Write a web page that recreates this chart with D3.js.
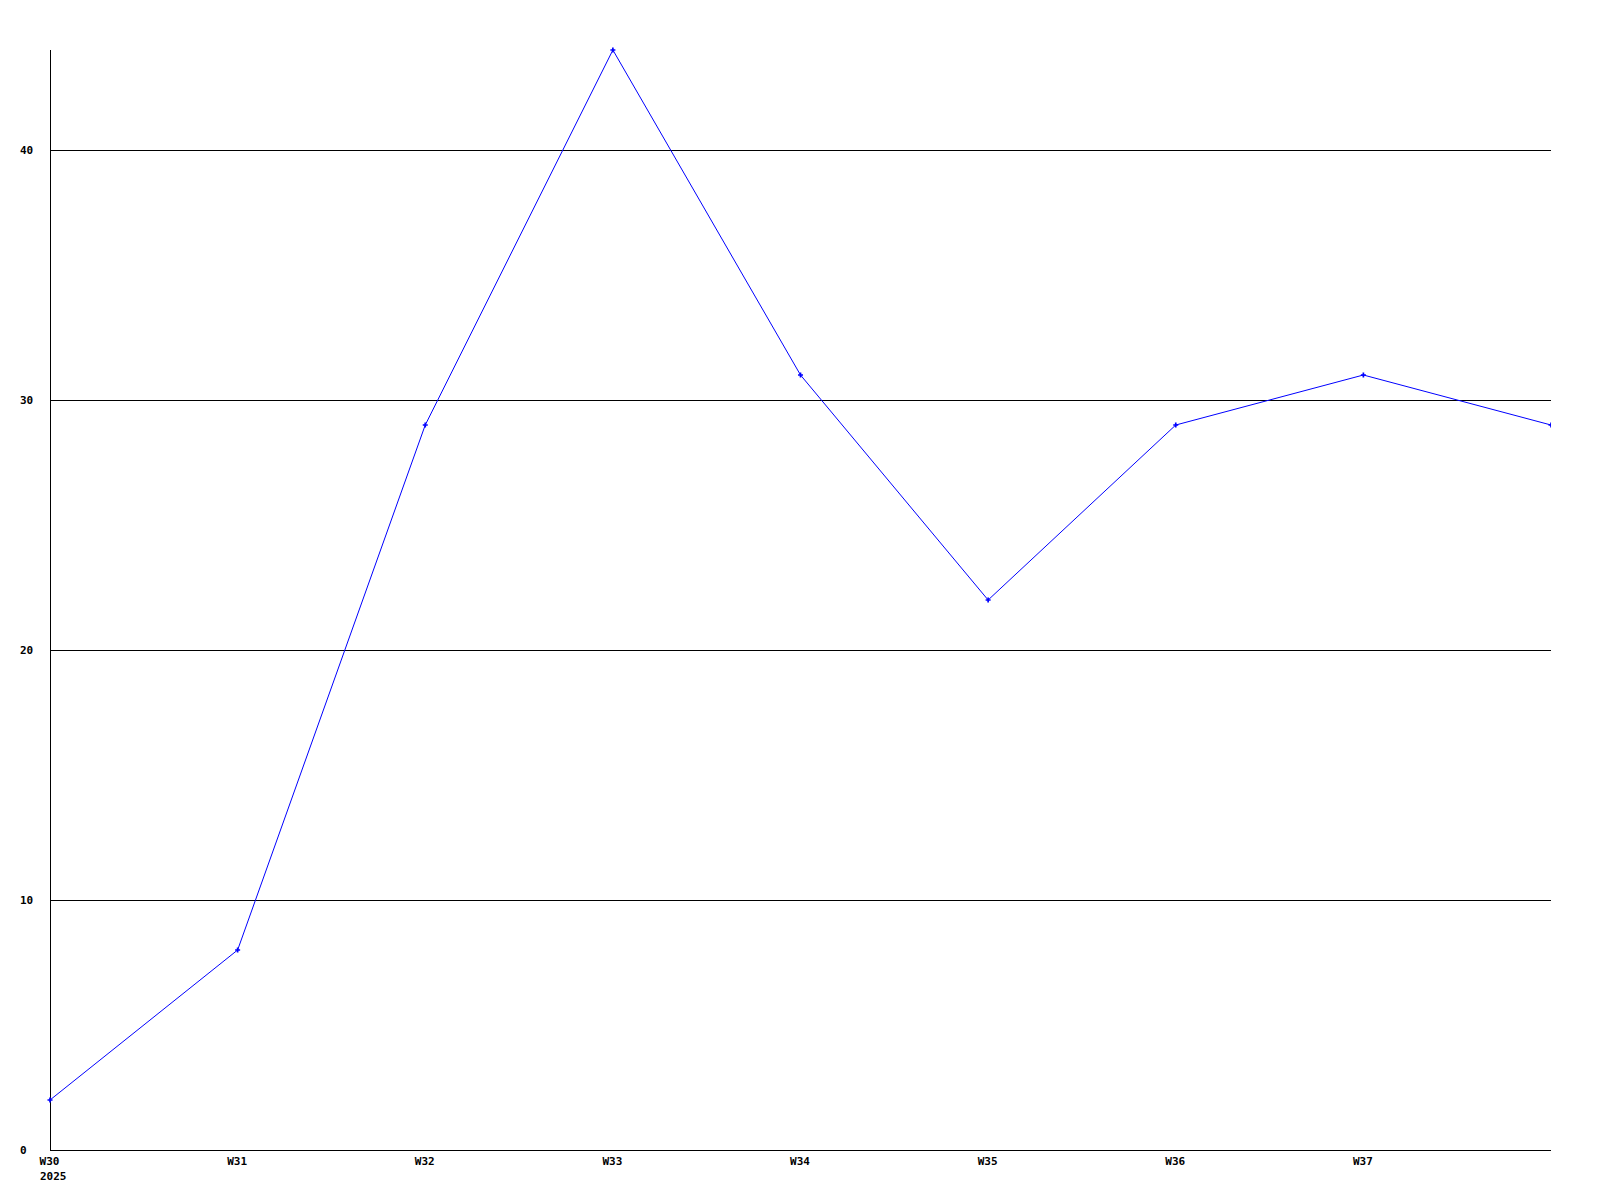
<!DOCTYPE html>
<html>
<head>
<meta charset="utf-8">
<script src="https://cdn.jsdelivr.net/npm/d3@7"></script>
<style>
  body { margin: 0; background: #fff; }
  text { font-family: "DejaVu Sans Mono", monospace; font-weight: bold; font-size: 11px; fill: #000; }
</style>
</head>
<body>
<svg width="1600" height="1200"></svg>
<script>
// weekly values
var weeks = ["W30", "W31", "W32", "W33", "W34", "W35", "W36", "W37", "W38"];
var values = [2, 8, 29, 44, 31, 22, 29, 31, 29];
var yTicks = [0, 10, 20, 30, 40];
var yearLabel = "2025";

var svg = d3.select("svg"),
  margin = { top: 50, right: 49, bottom: 50, left: 50 },
  width = +svg.attr("width") - margin.left - margin.right,
  height = +svg.attr("height") - margin.top - margin.bottom;

var x = d3.scaleLinear().domain([0, weeks.length - 1]).range([0, width]);
var y = d3.scaleLinear().domain([0, 44]).range([height, 0]);

var g = svg.append("g")
  .attr("transform", "translate(" + margin.left + "," + margin.top + ")");

svg.append("clipPath")
  .attr("id", "plot")
  .append("rect")
  .attr("x", -5).attr("y", -5)
  .attr("width", width + 5).attr("height", height + 10);

// grid lines
g.append("g")
  .selectAll("line")
  .data(yTicks.filter(function(d) { return d > 0; }))
  .enter()
  .append("line")
  .attr("x1", 0)
  .attr("x2", width)
  .attr("y1", function(d) { return Math.round(y(d)) + 0.5; })
  .attr("y2", function(d) { return Math.round(y(d)) + 0.5; })
  .attr("stroke", "#000");

// y labels
g.append("g")
  .selectAll("text")
  .data(yTicks)
  .enter()
  .append("text")
  .attr("x", -30)
  .attr("y", function(d) { return y(d); })
  .attr("dy", "0.35em")
  .text(function(d) { return d; });

// axes lines
g.append("line")
  .attr("x1", 0.5).attr("x2", 0.5)
  .attr("y1", 0).attr("y2", height)
  .attr("stroke", "#000");
g.append("line")
  .attr("x1", 0).attr("x2", width)
  .attr("y1", height + 0.5).attr("y2", height + 0.5)
  .attr("stroke", "#000");

// x labels
var xAxis = g.append("g")
  .attr("transform", "translate(0," + height + ")")
  .call(d3.axisBottom(x)
    .tickValues(d3.range(weeks.length - 1))
    .tickSize(0)
    .tickFormat(function(i) { return weeks[i]; }));
xAxis.select(".domain").remove();
xAxis.selectAll("text")
  .attr("x", -1)
  .attr("y", 15)
  .attr("dy", 0)
  .style("font-family", "DejaVu Sans Mono, monospace")
  .style("font-size", "11px")
  .style("font-weight", "bold");
xAxis.append("text")
  .attr("x", x(0) - 10)
  .attr("y", 30)
  .attr("text-anchor", "start")
  .text(yearLabel);

// line
var line = d3.line()
  .x(function(d, i) { return x(i); })
  .y(function(d) { return y(d); });

var plot = g.append("g").attr("clip-path", "url(#plot)");

plot.append("path")
  .datum(values)
  .attr("fill", "none")
  .attr("stroke", "#0000ff")
  .attr("stroke-width", 1)
  .attr("d", line);

// markers
plot.selectAll(".pt")
  .data(values)
  .enter()
  .append("path")
  .attr("class", "pt")
  .attr("transform", function(d, i) { return "translate(" + x(i) + "," + y(d) + ")"; })
  .attr("d", d3.symbol().type(d3.symbolCross).size(14))
  .attr("fill", "#0000ff");
</script>
</body>
</html>
